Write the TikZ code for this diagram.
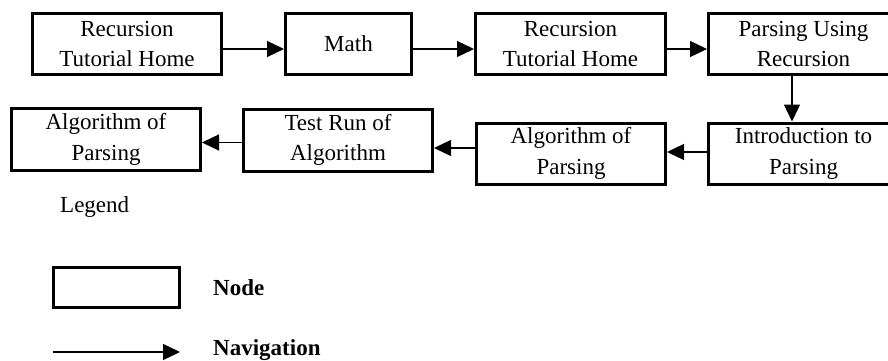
\documentclass[tikz,border=0pt]{standalone}
\usepackage{fontspec}
\setmainfont{Liberation Serif}
\usetikzlibrary{arrows.meta}
\begin{document}
\begin{tikzpicture}[x=1pt,y=-1pt,
  box/.style={draw,line width=3pt,inner sep=0pt,minimum height=61pt,align=center,
    font=\fontsize{23}{30.5}\selectfont},
  nav/.style={line width=1.3pt,-{Triangle[length=17pt,width=16pt]}},
  lbl/.style={inner sep=0pt,anchor=base west,font=\fontsize{23}{30.5}\selectfont}]
\clip (0,0) rectangle (888,361);
\node[box,minimum width=189pt] (b1) at (127,44) {Recursion\\Tutorial Home};
\node[box,minimum width=126pt] (math) at (348.5,44) {Math};
\node[box,minimum width=190pt] (b3) at (570.5,44) {Recursion\\Tutorial Home};
\node[box,minimum width=190pt] (b4) at (803.5,44) {Parsing Using\\Recursion};
\node[box,minimum width=190pt] (intro) at (803.5,153.5) {Introduction to\\Parsing};
\node[box,minimum width=189pt] (alg2) at (571,153.5) {Algorithm of\\Parsing};
\node[box,minimum width=189pt,minimum height=62pt] (test) at (338,140) {Test Run of\\Algorithm};
\node[box,minimum width=189pt,minimum height=62pt] (alg1) at (106,139.5) {Algorithm of\\Parsing};
\draw[nav] ([yshift=-5pt]b1.east) -- ([yshift=-5pt]math.west);
\draw[nav] ([yshift=-5pt]math.east) -- ([yshift=-5pt]b3.west);
\draw[nav] ([yshift=-5pt]b3.east) -- ([yshift=-5pt]b4.west);
\draw[nav] ([xshift=-11.5pt]b4.south) -- ([xshift=-11.5pt]intro.north);
\draw[nav] ([yshift=1.5pt]intro.west) -- ([yshift=1.5pt]alg2.east);
\draw[nav] ([yshift=5.5pt]alg2.west) -- ([yshift=-8pt]test.east);
\draw[nav] ([yshift=-2.5pt]test.west) -- ([yshift=-3pt]alg1.east);
% legend
\node[lbl] (legend) at (60,212) {Legend};
\node[box,minimum width=126pt,minimum height=40pt] (lbox) at (116.5,287.5) {};
\node[lbl,font=\fontsize{23}{30.5}\selectfont\bfseries] (lnode) at (213,295) {Node};
\coordinate (ls) at (53,352);
\coordinate (le) at (180,352);
\draw[nav] (ls) -- (le);
\node[lbl,font=\fontsize{23}{30.5}\selectfont\bfseries] (lnav) at (213,355) {Navigation};
\end{tikzpicture}
\end{document}
